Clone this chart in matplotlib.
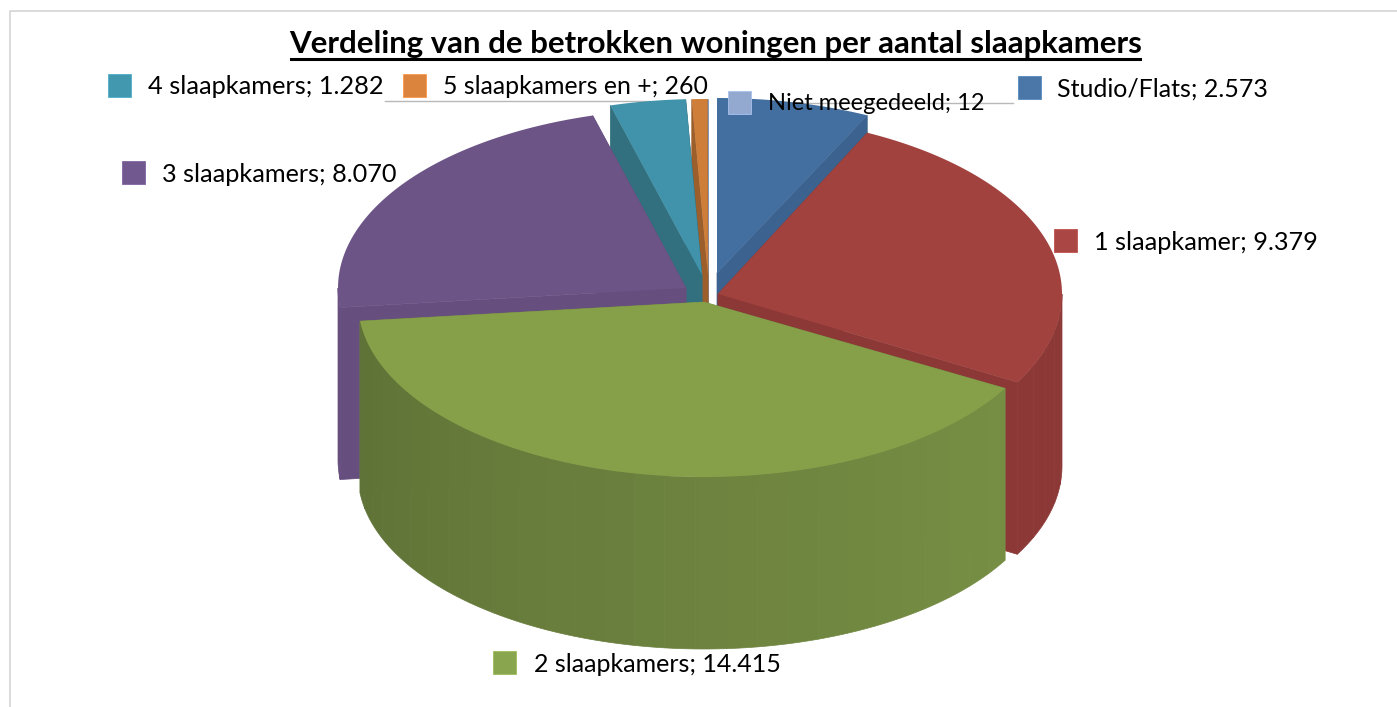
'''
Verdeling van de woningen per aantal slaapkamers, exploded 3D pie
'''

import numpy as np
import matplotlib
matplotlib.use('Agg')
import matplotlib.pyplot as plt
from matplotlib.patches import Polygon, Rectangle

plt.rcParams['font.family'] = ['Lato', 'DejaVu Sans']

TITLE = 'Verdeling van de betrokken woningen per aantal slaapkamers'
categories = ['Studio/Flats', '1 slaapkamer', '2 slaapkamers', '3 slaapkamers',
              '4 slaapkamers', '5 slaapkamers en +', 'Niet meegedeeld']
values = [2573, 9379, 14415, 8070, 1282, 260, 12]
value_labels = ['2.573', '9.379', '14.415', '8.070', '1.282', '260', '12']

top_colors = ['#436ea0', '#a2423f', '#86a04a', '#6d5487', '#4093aa', '#cf7e39', '#93a9cf']
wall_colors = ['#3c638f', '#8c3836', '#789045', '#664e7e', '#32707f', '#9c5f2b', '#8498b8']
key_colors = ['#4a76a8', '#aa4643', '#89a54e', '#71588f', '#4198af', '#db843d', '#93a9cf']
# how much the round wall darkens from right to left
wall_shading = [0, 0, 0.25, 0, 0, 0, 0]

# slice apex on screen (pixels), exploded so each one has its own centre
centers = [(717, 273), (718, 294), (704, 302), (686, 288), (702, 275), (708, 275), (708, 275)]
radii = [(346, 175), (344, 179), (346, 175), (348, 179), (342, 176), (342, 176), (342, 176)]
DEPTH = 172

# legend key left edge, key top, text left, text middle
keys = [(1018, 76, 1057, 89), (1054, 229, 1094, 242), (493, 651, 534, 665),
        (122, 161, 162, 174), (108, 74, 148, 87), (403, 74, 443, 87), (728, 91, 768, 104)]
label_sizes = [18, 18.2, 18, 18.2, 18.3, 17.9, 17]
KEY = 23


def ring(c, r, a0, a1, n=120):
  # angles in degrees, clockwise from the top
  t = np.radians(np.linspace(a0, a1, n))
  return np.column_stack([c[0] + r[0] * np.sin(t), c[1] - r[1] * np.cos(t)])


def shade(color, f):
  rgb = np.array(matplotlib.colors.to_rgb(color))
  return tuple(np.clip(rgb * f, 0, 1))


def drawSlice(ax, c, r, a0, a1, top, wall, span):
  apex = np.array(c, dtype=float)
  down = np.array([0, DEPTH])
  # flat cut faces running back to the apex
  for a in (a0, a1):
    edge = ring(c, r, a, a, 1)[0]
    ax.add_patch(Polygon([apex, edge, edge + down, apex + down], fc=wall, ec=wall, lw=0.5))
  # rounded outer wall, only the part that faces the viewer, drawn in strips
  lo, hi = max(a0, 90), min(a1, 270)
  if hi > lo:
    steps = max(int((hi - lo) / 5), 1)
    for s0, s1 in zip(np.linspace(lo, hi, steps, endpoint=False),
                      np.linspace(lo, hi, steps + 1)[1:]):
      pts = ring(c, r, s0, s1, 12)
      f = 1.03 - span * (0.5 * (s0 + s1) - 90) / 180 if span else 1
      col = shade(wall, f)
      ax.add_patch(Polygon(np.vstack([pts, pts[::-1] + down]), fc=col, ec=col, lw=0.5))
  pts = np.vstack([[apex], ring(c, r, a0, a1)])
  ax.add_patch(Polygon(pts, fc=top, ec='none'))


fig = plt.figure(figsize=(13.97, 7.07), dpi=100)
ax = fig.add_axes([0, 0, 1, 1])
ax.set_xlim(0, 1397)
ax.set_ylim(707, 0)
ax.axis('off')

# chart frame runs off the crop at the right and bottom
ax.plot([10, 10, 1397], [707, 10.5, 10.5], color='#d4d4d4', lw=1.2)

# leader lines, under the slices
ax.plot([385, 650], [100.5, 100.5], color='#b8b8b8', lw=1, zorder=0.5)
ax.plot([800, 1013], [102.5, 102.5], color='#b8b8b8', lw=1, zorder=0.5)

# angles come from the values
ends = np.cumsum(values) / np.sum(values) * 360
starts = np.concatenate([[0], ends[:-1]])

# back to front
for i in [6, 0, 5, 4, 3, 1, 2]:
  drawSlice(ax, centers[i], radii[i], starts[i], ends[i], top_colors[i], wall_colors[i], wall_shading[i])

ax.text(715.5, 44, TITLE, fontsize=22.4, fontweight='bold', ha='center', va='center', color='black')
ax.plot([291, 1140], [58.5, 58.5], color='black', lw=2.2)

for i, (kx, ky, tx, ty) in enumerate(keys):
  ax.add_patch(Rectangle((kx, ky), KEY, KEY, fc=key_colors[i], ec=shade(key_colors[i], 1.15), lw=0.6, zorder=5))
  ax.text(tx, ty, categories[i] + '; ' + value_labels[i], fontsize=label_sizes[i], ha='left', va='center',
          color='black', zorder=6)

fig.savefig('out.png', dpi=100)
